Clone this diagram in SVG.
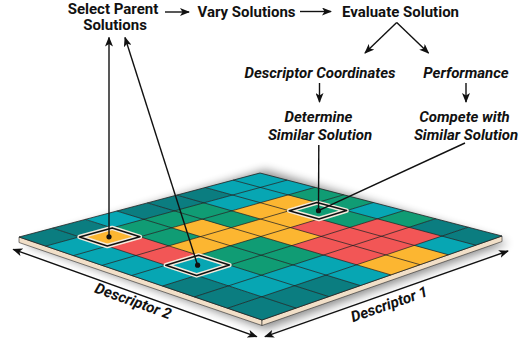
<svg xmlns="http://www.w3.org/2000/svg" width="532" height="345" viewBox="0 0 532 345">
  <style>
    .lbl { font-family: Roboto, "Liberation Sans", Arial, sans-serif; font-weight: 700; font-size: 15px; fill: #111; text-anchor: middle; }
    .it { font-style: italic; }
    .c-d { fill: #0b7d80; }
    .c-t { fill: #07a6b3; }
    .c-g { fill: #109c74; }
    .c-y { fill: #fcb631; }
    .c-r { fill: #f25656; }
    .grid line { stroke: #1b1b1b; stroke-width: 0.8; stroke-opacity: 0.85; }
    .wire { stroke: #111; stroke-width: 1.4; fill: none; }
    .pick-halo { fill: none; stroke: #f4eadc; stroke-width: 4.5; stroke-linejoin: round; }
    .pick-edge { fill: none; stroke: #111; stroke-width: 1.6; stroke-linejoin: round; }
  </style>
  <defs>
    <marker id="head" viewBox="0 0 10 8" refX="9" refY="4" markerWidth="10" markerHeight="8" markerUnits="userSpaceOnUse" orient="auto">
      <path d="M0,0 L10,4 L0,8 L2.5,4 z" fill="#111"/>
    </marker>
    <marker id="tail" viewBox="0 0 10 8" refX="1" refY="4" markerWidth="10" markerHeight="8" markerUnits="userSpaceOnUse" orient="auto">
      <path d="M10,0 L0,4 L10,8 L7.5,4 z" fill="#111"/>
    </marker>
    <filter id="soft" x="-20%" y="-40%" width="140%" height="180%">
      <feGaussianBlur stdDeviation="5"/>
    </filter>
  </defs>

  <!-- archive board -->
  <g id="archive">
    <polygon points="24,243 265,170 508,243 266,329" fill="#000" opacity="0.45" filter="url(#soft)"/>
    <!-- board thickness -->
    <polygon points="19,237 262,320 262,325.5 19,242.5" fill="#f1dfc8" stroke="#2a2a2a" stroke-width="0.6"/>
    <polygon points="262,320 502,236 502,241.5 262,325.5" fill="#f1dfc8" stroke="#2a2a2a" stroke-width="0.6"/>

    <g id="cells">
      <polygon class="c-d" points="19,237 52.7,228.1 79.5,236.9 45.7,246.1"/>
      <polygon class="c-d" points="52.7,228.1 85.3,219.4 112.2,227.9 79.5,236.9"/>
      <polygon class="c-t" points="85.3,219.4 116.8,211 143.8,219.3 112.2,227.9"/>
      <polygon class="c-d" points="116.8,211 147.3,202.9 174.3,210.9 143.8,219.3"/>
      <polygon class="c-d" points="147.3,202.9 176.8,195.1 203.9,202.8 174.3,210.9"/>
      <polygon class="c-d" points="176.8,195.1 205.4,187.5 232.5,195 203.9,202.8"/>
      <polygon class="c-t" points="205.4,187.5 233.1,180.1 260.2,187.4 232.5,195"/>
      <polygon class="c-t" points="233.1,180.1 260,173 287.1,180.1 260.2,187.4"/>

      <polygon class="c-t" points="45.7,246.1 79.5,236.9 107.3,246 73.4,255.6"/>
      <polygon class="c-y" points="79.5,236.9 112.2,227.9 140,236.8 107.3,246"/>
      <polygon class="c-g" points="112.2,227.9 143.8,219.3 171.7,227.8 140,236.8"/>
      <polygon class="c-g" points="143.8,219.3 174.3,210.9 202.2,219.2 171.7,227.8"/>
      <polygon class="c-g" points="174.3,210.9 203.9,202.8 231.8,210.8 202.2,219.2"/>
      <polygon class="c-t" points="203.9,202.8 232.5,195 260.4,202.7 231.8,210.8"/>
      <polygon class="c-t" points="232.5,195 260.2,187.4 288.1,194.9 260.4,202.7"/>
      <polygon class="c-t" points="260.2,187.4 287.1,180.1 315,187.3 288.1,194.9"/>

      <polygon class="c-t" points="73.4,255.6 107.3,246 136,255.4 102,265.4"/>
      <polygon class="c-r" points="107.3,246 140,236.8 168.8,245.9 136,255.4"/>
      <polygon class="c-g" points="140,236.8 171.7,227.8 200.5,236.6 168.8,245.9"/>
      <polygon class="c-y" points="171.7,227.8 202.2,219.2 231.1,227.7 200.5,236.6"/>
      <polygon class="c-g" points="202.2,219.2 231.8,210.8 260.6,219.1 231.1,227.7"/>
      <polygon class="c-y" points="231.8,210.8 260.4,202.7 289.2,210.7 260.6,219.1"/>
      <polygon class="c-y" points="260.4,202.7 288.1,194.9 316.9,202.6 289.2,210.7"/>
      <polygon class="c-g" points="288.1,194.9 315,187.3 343.7,194.8 316.9,202.6"/>

      <polygon class="c-t" points="102,265.4 136,255.4 165.8,265.2 131.7,275.5"/>
      <polygon class="c-r" points="136,255.4 168.8,245.9 198.6,255.3 165.8,265.2"/>
      <polygon class="c-y" points="168.8,245.9 200.5,236.6 230.3,245.7 198.6,255.3"/>
      <polygon class="c-y" points="200.5,236.6 231.1,227.7 260.9,236.5 230.3,245.7"/>
      <polygon class="c-y" points="231.1,227.7 260.6,219.1 290.4,227.6 260.9,236.5"/>
      <polygon class="c-y" points="260.6,219.1 289.2,210.7 319,219 290.4,227.6"/>
      <polygon class="c-g" points="289.2,210.7 316.9,202.6 346.6,210.6 319,219"/>
      <polygon class="c-g" points="316.9,202.6 343.7,194.8 373.4,202.5 346.6,210.6"/>

      <polygon class="c-t" points="131.7,275.5 165.8,265.2 196.6,275.4 162.5,286"/>
      <polygon class="c-t" points="165.8,265.2 198.6,255.3 229.4,265.1 196.6,275.4"/>
      <polygon class="c-g" points="198.6,255.3 230.3,245.7 261.1,255.2 229.4,265.1"/>
      <polygon class="c-g" points="230.3,245.7 260.9,236.5 291.7,245.6 261.1,255.2"/>
      <polygon class="c-y" points="260.9,236.5 290.4,227.6 321.2,236.4 291.7,245.6"/>
      <polygon class="c-r" points="290.4,227.6 319,219 349.7,227.5 321.2,236.4"/>
      <polygon class="c-g" points="319,219 346.6,210.6 377.3,218.8 349.7,227.5"/>
      <polygon class="c-t" points="346.6,210.6 373.4,202.5 404,210.5 377.3,218.8"/>

      <polygon class="c-d" points="162.5,286 196.6,275.4 228.5,285.9 194.4,296.9"/>
      <polygon class="c-t" points="196.6,275.4 229.4,265.1 261.4,275.2 228.5,285.9"/>
      <polygon class="c-g" points="229.4,265.1 261.1,255.2 293.1,264.9 261.4,275.2"/>
      <polygon class="c-g" points="261.1,255.2 291.7,245.6 323.6,255 293.1,264.9"/>
      <polygon class="c-r" points="291.7,245.6 321.2,236.4 353.1,245.5 323.6,255"/>
      <polygon class="c-r" points="321.2,236.4 349.7,227.5 381.5,236.3 353.1,245.5"/>
      <polygon class="c-r" points="349.7,227.5 377.3,218.8 409,227.3 381.5,236.3"/>
      <polygon class="c-g" points="377.3,218.8 404,210.5 435.6,218.7 409,227.3"/>

      <polygon class="c-d" points="194.4,296.9 228.5,285.9 261.7,296.8 227.6,308.2"/>
      <polygon class="c-t" points="228.5,285.9 261.4,275.2 294.5,285.7 261.7,296.8"/>
      <polygon class="c-t" points="261.4,275.2 293.1,264.9 326.1,275.1 294.5,285.7"/>
      <polygon class="c-t" points="293.1,264.9 323.6,255 356.6,264.8 326.1,275.1"/>
      <polygon class="c-r" points="323.6,255 353.1,245.5 386,254.9 356.6,264.8"/>
      <polygon class="c-r" points="353.1,245.5 381.5,236.3 414.4,245.4 386,254.9"/>
      <polygon class="c-r" points="381.5,236.3 409,227.3 441.8,236.1 414.4,245.4"/>
      <polygon class="c-d" points="409,227.3 435.6,218.7 468.3,227.2 441.8,236.1"/>

      <polygon class="c-d" points="227.6,308.2 261.7,296.8 296.1,308.1 262,320"/>
      <polygon class="c-d" points="261.7,296.8 294.5,285.7 328.9,296.6 296.1,308.1"/>
      <polygon class="c-d" points="294.5,285.7 326.1,275.1 360.5,285.6 328.9,296.6"/>
      <polygon class="c-t" points="326.1,275.1 356.6,264.8 390.9,274.9 360.5,285.6"/>
      <polygon class="c-y" points="356.6,264.8 386,254.9 420.1,264.7 390.9,274.9"/>
      <polygon class="c-y" points="386,254.9 414.4,245.4 448.4,254.8 420.1,264.7"/>
      <polygon class="c-t" points="414.4,245.4 441.8,236.1 475.7,245.2 448.4,254.8"/>
      <polygon class="c-d" points="441.8,236.1 468.3,227.2 502,236 475.7,245.2"/>
    </g>

    <g class="grid">
      <line x1="45.7" y1="246.1" x2="287.1" y2="180.1"/>
      <line x1="73.4" y1="255.6" x2="315" y2="187.3"/>
      <line x1="102" y1="265.4" x2="343.7" y2="194.8"/>
      <line x1="131.7" y1="275.5" x2="373.4" y2="202.5"/>
      <line x1="162.5" y1="286" x2="404" y2="210.5"/>
      <line x1="194.4" y1="296.9" x2="435.6" y2="218.7"/>
      <line x1="227.6" y1="308.2" x2="468.3" y2="227.2"/>
      <line x1="52.7" y1="228.1" x2="296.1" y2="308.1"/>
      <line x1="85.3" y1="219.4" x2="328.9" y2="296.6"/>
      <line x1="116.8" y1="211" x2="360.5" y2="285.6"/>
      <line x1="147.3" y1="202.9" x2="390.9" y2="274.9"/>
      <line x1="176.8" y1="195.1" x2="420.1" y2="264.7"/>
      <line x1="205.4" y1="187.5" x2="448.4" y2="254.8"/>
      <line x1="233.1" y1="180.1" x2="475.7" y2="245.2"/>
    </g>
    <polygon points="19,237 260,173 502,236 262,320" fill="none" stroke="#222" stroke-width="0.8"/>

    <!-- selected and compared cells -->
    <g id="parent-a">
      <polygon class="pick-halo" points="79.5,236.9 112.2,227.9 140,236.8 107.3,246"/>
      <polygon class="pick-edge" points="79.5,236.9 112.2,227.9 140,236.8 107.3,246"/>
    </g>
    <g id="parent-b">
      <polygon class="pick-halo" points="165.8,265.2 198.6,255.3 229.4,265.1 196.6,275.4"/>
      <polygon class="pick-edge" points="165.8,265.2 198.6,255.3 229.4,265.1 196.6,275.4"/>
    </g>
    <g id="similar-cell">
      <polygon class="pick-halo" points="289.2,210.7 316.9,202.6 346.6,210.6 319,219"/>
      <polygon class="pick-edge" points="289.2,210.7 316.9,202.6 346.6,210.6 319,219"/>
    </g>
  </g>

  <!-- flow labels -->
  <g id="select-parents">
    <text class="lbl" x="113" y="13.5">Select Parent</text>
    <text class="lbl" x="115" y="30">Solutions</text>
  </g>
  <g id="vary">
    <text class="lbl" x="246.5" y="16.5">Vary Solutions</text>
  </g>
  <g id="evaluate">
    <text class="lbl" x="400.5" y="16.5">Evaluate Solution</text>
  </g>
  <g id="descriptor-coords">
    <text class="lbl it" x="320" y="77.5">Descriptor Coordinates</text>
  </g>
  <g id="performance">
    <text class="lbl it" x="466" y="77.5">Performance</text>
  </g>
  <g id="determine">
    <text class="lbl it" x="318.5" y="121.5">Determine</text>
    <text class="lbl it" x="320" y="139.5">Similar Solution</text>
  </g>
  <g id="compete">
    <text class="lbl it" x="464.5" y="121.5">Compete with</text>
    <text class="lbl it" x="466" y="139.5">Similar Solution</text>
  </g>

  <!-- connectors -->
  <g id="connectors">
    <line class="wire" x1="165" y1="12" x2="189" y2="12" marker-end="url(#head)"/>
    <line class="wire" x1="300" y1="11.5" x2="331" y2="11.5" marker-end="url(#head)"/>
    <line class="wire" x1="396.7" y1="22.5" x2="365" y2="53" marker-end="url(#head)"/>
    <line class="wire" x1="396.7" y1="22.5" x2="428.5" y2="53" marker-end="url(#head)"/>
    <line class="wire" x1="319.5" y1="83" x2="319.5" y2="102" marker-end="url(#head)"/>
    <line class="wire" x1="466" y1="83" x2="466" y2="102" marker-end="url(#head)"/>
    <line class="wire" x1="109" y1="236.8" x2="109" y2="37.5" marker-end="url(#head)"/>
    <line class="wire" x1="197.6" y1="265.2" x2="125" y2="37.5" marker-end="url(#head)"/>
    <line class="wire" x1="318.5" y1="210.7" x2="318.8" y2="145"/>
    <line class="wire" x1="318.5" y1="210.7" x2="465" y2="143"/>
    <circle cx="109" cy="236.8" r="2.6" fill="#111"/>
    <circle cx="197.6" cy="265.2" r="2.6" fill="#111"/>
    <circle cx="318.5" cy="210.7" r="2.6" fill="#111"/>
    <!-- descriptor axes -->
    <line class="wire" x1="13.3" y1="249.3" x2="256.7" y2="336.7" marker-start="url(#tail)" marker-end="url(#head)"/>
    <line class="wire" x1="265" y1="336.7" x2="508" y2="251" marker-start="url(#tail)" marker-end="url(#head)"/>
  </g>

  <g id="axis-labels">
    <text class="lbl it" transform="translate(133.3,300.8) rotate(19.75)" y="5.3">Descriptor 2</text>
    <text class="lbl it" transform="translate(389,304) rotate(-19.4)" y="5.3">Descriptor 1</text>
  </g>
</svg>
